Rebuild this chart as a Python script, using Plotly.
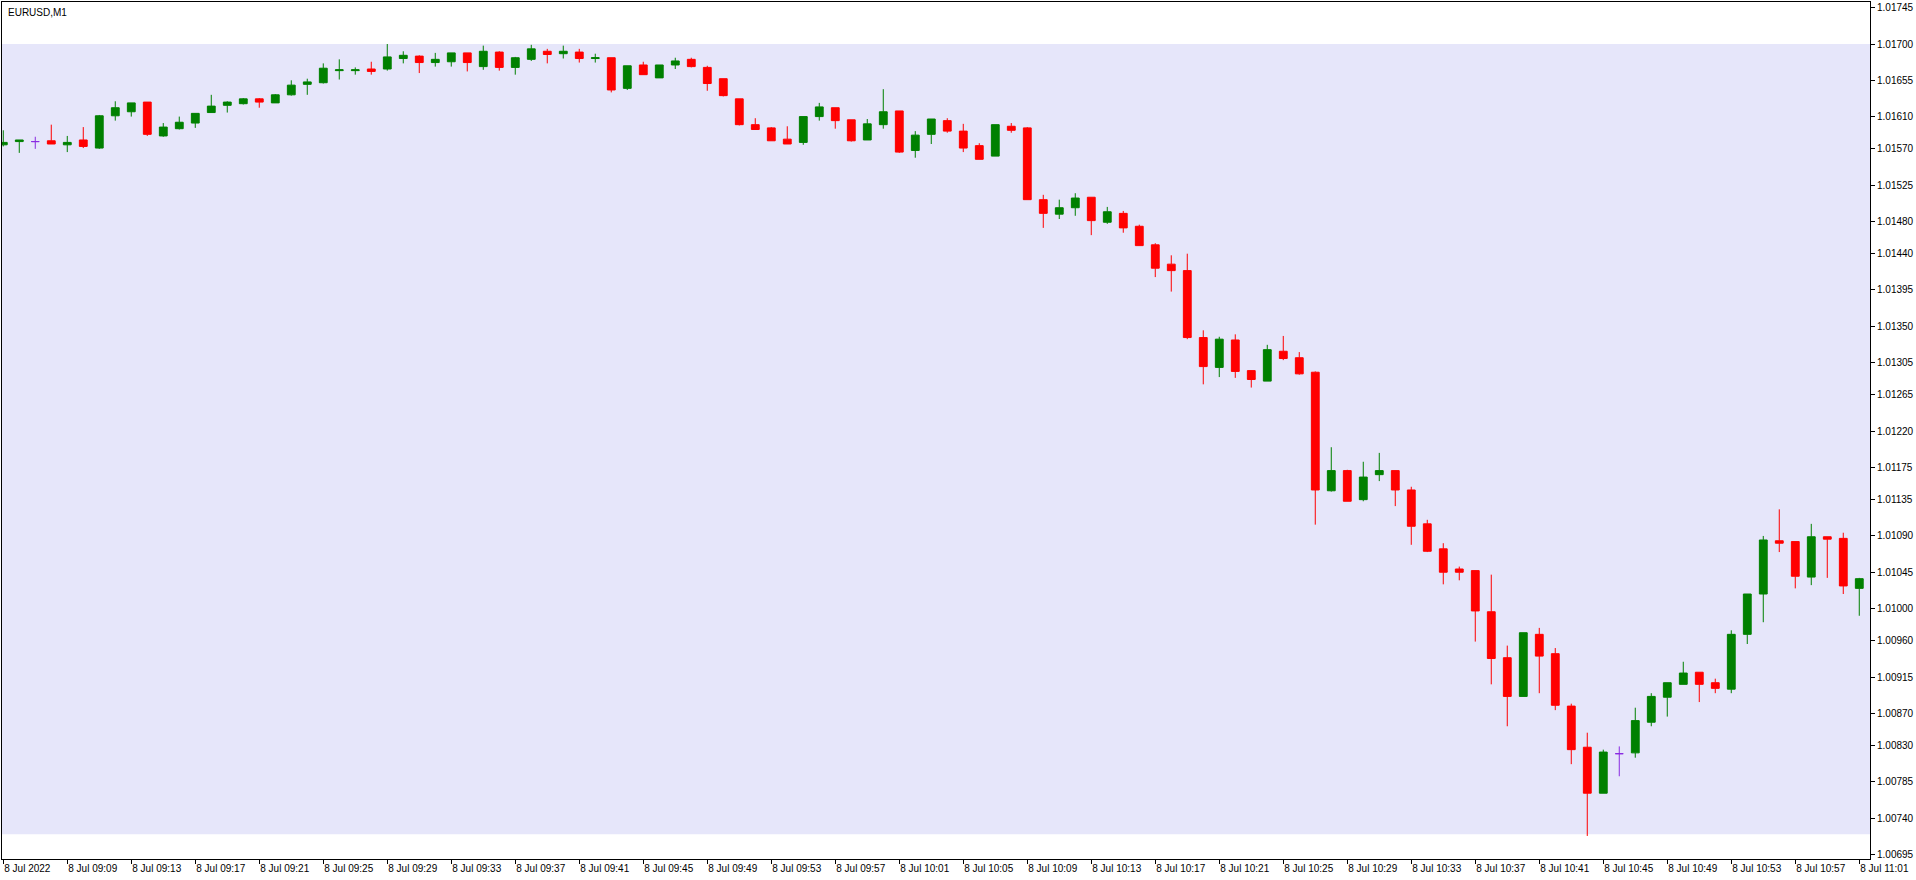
"""EURUSD M1 candles in a MetaTrader-like light chart."""
import pandas as pd
import plotly.graph_objects as go

SYMBOL = "EURUSD,M1"
FIRST_BAR = "2022-07-08 09:05"

OPEN = [
    1.01575, 1.01579, 1.01579, 1.01580, 1.01575, 1.01581, 1.01571, 1.01611, 1.01616, 1.01628,
    1.01586, 1.01595, 1.01602, 1.01615, 1.01624, 1.01626, 1.01632, 1.01627, 1.01637, 1.01650,
    1.01652, 1.01667, 1.01667, 1.01669, 1.01669, 1.01682, 1.01685, 1.01677, 1.01678, 1.01689,
    1.01672, 1.01690, 1.01671, 1.01681, 1.01691, 1.01688, 1.01690, 1.01682, 1.01683, 1.01645,
    1.01674, 1.01658, 1.01674, 1.01681, 1.01671, 1.01657, 1.01632, 1.01600, 1.01596, 1.01582,
    1.01578, 1.01610, 1.01621, 1.01606, 1.01581, 1.01600, 1.01617, 1.01568, 1.01588, 1.01605,
    1.01592, 1.01574, 1.01561, 1.01598, 1.01596, 1.01507, 1.01489, 1.01497, 1.01510, 1.01479,
    1.01490, 1.01474, 1.01451, 1.01427, 1.01419, 1.01336, 1.01299, 1.01333, 1.01295, 1.01282,
    1.01319, 1.01311, 1.01293, 1.01146, 1.01171, 1.01135, 1.01166, 1.01171, 1.01147, 1.01105,
    1.01074, 1.01049, 1.01047, 1.00996, 1.00939, 1.00891, 1.00968, 1.00944, 1.00879, 1.00828,
    1.00771, 1.00820, 1.00821, 1.00859, 1.00890, 1.00906, 1.00921, 1.00908, 1.00900, 1.00968,
    1.01018, 1.01084, 1.01083, 1.01039, 1.01089, 1.01087, 1.01025,
]
HIGH = [
    1.01593, 1.01581, 1.01585, 1.01600, 1.01586, 1.01597, 1.01612, 1.01629, 1.01627, 1.01628,
    1.01602, 1.01610, 1.01614, 1.01637, 1.01629, 1.01633, 1.01633, 1.01638, 1.01655, 1.01657,
    1.01676, 1.01681, 1.01671, 1.01678, 1.01700, 1.01691, 1.01686, 1.01689, 1.01689, 1.01689,
    1.01698, 1.01691, 1.01684, 1.01699, 1.01694, 1.01698, 1.01694, 1.01688, 1.01683, 1.01673,
    1.01678, 1.01674, 1.01683, 1.01683, 1.01673, 1.01657, 1.01632, 1.01608, 1.01597, 1.01598,
    1.01610, 1.01627, 1.01621, 1.01606, 1.01607, 1.01644, 1.01617, 1.01592, 1.01607, 1.01608,
    1.01601, 1.01577, 1.01600, 1.01602, 1.01597, 1.01513, 1.01507, 1.01515, 1.01510, 1.01498,
    1.01493, 1.01476, 1.01453, 1.01438, 1.01440, 1.01345, 1.01337, 1.01340, 1.01295, 1.01327,
    1.01338, 1.01318, 1.01294, 1.01200, 1.01172, 1.01182, 1.01193, 1.01171, 1.01151, 1.01110,
    1.01081, 1.01052, 1.01047, 1.01042, 1.00954, 1.00970, 1.00976, 1.00951, 1.00882, 1.00846,
    1.00825, 1.00829, 1.00877, 1.00895, 1.00908, 1.00934, 1.00921, 1.00913, 1.00973, 1.01018,
    1.01090, 1.01123, 1.01083, 1.01105, 1.01089, 1.01094, 1.01038,
]
LOW = [
    1.01573, 1.01565, 1.01570, 1.01576, 1.01566, 1.01571, 1.01570, 1.01605, 1.01610, 1.01586,
    1.01585, 1.01594, 1.01596, 1.01615, 1.01615, 1.01625, 1.01621, 1.01627, 1.01636, 1.01637,
    1.01651, 1.01656, 1.01662, 1.01662, 1.01667, 1.01676, 1.01664, 1.01672, 1.01672, 1.01666,
    1.01668, 1.01667, 1.01662, 1.01679, 1.01676, 1.01682, 1.01677, 1.01677, 1.01640, 1.01643,
    1.01662, 1.01658, 1.01669, 1.01671, 1.01642, 1.01635, 1.01599, 1.01594, 1.01580, 1.01576,
    1.01575, 1.01605, 1.01595, 1.01579, 1.01581, 1.01595, 1.01565, 1.01559, 1.01576, 1.01590,
    1.01566, 1.01557, 1.01561, 1.01590, 1.01507, 1.01472, 1.01483, 1.01487, 1.01463, 1.01477,
    1.01466, 1.01450, 1.01411, 1.01393, 1.01334, 1.01278, 1.01287, 1.01286, 1.01274, 1.01282,
    1.01308, 1.01290, 1.01104, 1.01145, 1.01133, 1.01133, 1.01158, 1.01127, 1.01079, 1.01070,
    1.01030, 1.01035, 1.00959, 1.00906, 1.00854, 1.00891, 1.00895, 1.00874, 1.00807, 1.00718,
    1.00771, 1.00792, 1.00815, 1.00854, 1.00866, 1.00906, 1.00884, 1.00895, 1.00895, 1.00956,
    1.00983, 1.01070, 1.01025, 1.01029, 1.01038, 1.01018, 1.00991,
]
CLOSE = [
    1.01578, 1.01581, 1.01579, 1.01576, 1.01578, 1.01573, 1.01611, 1.01621, 1.01627, 1.01588,
    1.01597, 1.01603, 1.01614, 1.01623, 1.01628, 1.01632, 1.01628, 1.01637, 1.01649, 1.01653,
    1.01670, 1.01668, 1.01668, 1.01666, 1.01684, 1.01686, 1.01677, 1.01681, 1.01689, 1.01677,
    1.01691, 1.01671, 1.01683, 1.01694, 1.01687, 1.01691, 1.01682, 1.01683, 1.01643, 1.01673,
    1.01662, 1.01674, 1.01679, 1.01672, 1.01651, 1.01636, 1.01600, 1.01594, 1.01580, 1.01576,
    1.01610, 1.01622, 1.01605, 1.01580, 1.01601, 1.01616, 1.01566, 1.01587, 1.01607, 1.01592,
    1.01571, 1.01557, 1.01600, 1.01593, 1.01507, 1.01490, 1.01497, 1.01509, 1.01481, 1.01492,
    1.01472, 1.01450, 1.01422, 1.01419, 1.01336, 1.01300, 1.01334, 1.01294, 1.01284, 1.01321,
    1.01310, 1.01291, 1.01147, 1.01171, 1.01133, 1.01163, 1.01171, 1.01147, 1.01102, 1.01071,
    1.01045, 1.01045, 1.00997, 1.00938, 1.00891, 1.00970, 1.00941, 1.00880, 1.00825, 1.00771,
    1.00822, 1.00820, 1.00861, 1.00891, 1.00908, 1.00920, 1.00906, 1.00901, 1.00968, 1.01018,
    1.01085, 1.01081, 1.01040, 1.01089, 1.01086, 1.01028, 1.01037,
]

X_TICK_TEXT = [
    "8 Jul 2022", "8 Jul 09:09", "8 Jul 09:13", "8 Jul 09:17", "8 Jul 09:21", "8 Jul 09:25",
    "8 Jul 09:29", "8 Jul 09:33", "8 Jul 09:37", "8 Jul 09:41", "8 Jul 09:45", "8 Jul 09:49",
    "8 Jul 09:53", "8 Jul 09:57", "8 Jul 10:01", "8 Jul 10:05", "8 Jul 10:09", "8 Jul 10:13",
    "8 Jul 10:17", "8 Jul 10:21", "8 Jul 10:25", "8 Jul 10:29", "8 Jul 10:33", "8 Jul 10:37",
    "8 Jul 10:41", "8 Jul 10:45", "8 Jul 10:49", "8 Jul 10:53", "8 Jul 10:57", "8 Jul 11:01",
]
Y_TICKS = [
    1.01745, 1.01700, 1.01655, 1.01610, 1.01570, 1.01525, 1.01480, 1.01440, 1.01395,
    1.01350, 1.01305, 1.01265, 1.01220, 1.01175, 1.01135, 1.01090, 1.01045, 1.01000,
    1.00960, 1.00915, 1.00870, 1.00830, 1.00785, 1.00740, 1.00695,
]

BAND_TOP = 1.01700
BAND_BOTTOM = 1.00720

UP = "#008000"
DOWN = "#ff0000"
FLAT = "#8a2be2"
BAND = "#e6e6fa"
INK = "#000000"
FONT = "Liberation Sans, Arial, sans-serif"

times = pd.date_range(FIRST_BAR, periods=len(OPEN), freq="min")
bars = pd.DataFrame({"o": OPEN, "h": HIGH, "l": LOW, "c": CLOSE}, index=times)
flat = bars[bars.o == bars.c]
moving = bars[bars.o != bars.c]

fig = go.Figure()
fig.add_trace(go.Candlestick(
    x=moving.index, open=moving.o, high=moving.h, low=moving.l, close=moving.c,
    increasing=dict(line=dict(color=UP, width=1), fillcolor=UP),
    decreasing=dict(line=dict(color=DOWN, width=1), fillcolor=DOWN),
    whiskerwidth=0, showlegend=False, name="EURUSD",
))
fig.add_trace(go.Candlestick(
    x=flat.index, open=flat.o, high=flat.h, low=flat.l, close=flat.c,
    increasing=dict(line=dict(color=FLAT, width=1), fillcolor=FLAT),
    decreasing=dict(line=dict(color=FLAT, width=1), fillcolor=FLAT),
    whiskerwidth=0, showlegend=False, name="EURUSD",
))

fig.add_shape(
    type="rect", xref="paper", x0=0, x1=1, yref="y", y0=BAND_BOTTOM, y1=BAND_TOP,
    fillcolor=BAND, line_width=0, layer="below",
)
fig.add_annotation(
    text=SYMBOL, xref="paper", yref="paper", x=0, y=1, xanchor="left", yanchor="top",
    xshift=4, yshift=-3, showarrow=False, font=dict(family=FONT, size=10, color=INK),
)

one_min = pd.Timedelta(minutes=1)
fig.update_layout(
    width=1916, height=880,
    margin=dict(l=2, r=46, t=2, b=21),
    paper_bgcolor="white", plot_bgcolor="white",
    font=dict(family=FONT, size=10, color=INK),
    hovermode="x",
    xaxis=dict(
        range=[times[0] - 0.08 * one_min, times[-1] + 0.67 * one_min],
        rangeslider_visible=False,
        tickvals=times[::4], ticktext=X_TICK_TEXT,
        ticks="outside", ticklen=4, tickcolor=INK,
        ticklabelposition="outside right",
        showline=True, linecolor=INK, linewidth=1, mirror=True,
        showgrid=False, zeroline=False,
    ),
    yaxis=dict(
        side="right", range=[1.006894, 1.017521],
        tickvals=Y_TICKS, tickformat=".5f",
        ticks="outside", ticklen=4, tickcolor=INK,
        showline=True, linecolor=INK, linewidth=1, mirror=True,
        showgrid=False, zeroline=False,
    ),
)

# the page body has an 8px default margin; drop it so the chart sits flush
fig.write_html(
    "out.html",
    config={"displayModeBar": False},
    post_script="document.body.style.margin = '0';",
)
